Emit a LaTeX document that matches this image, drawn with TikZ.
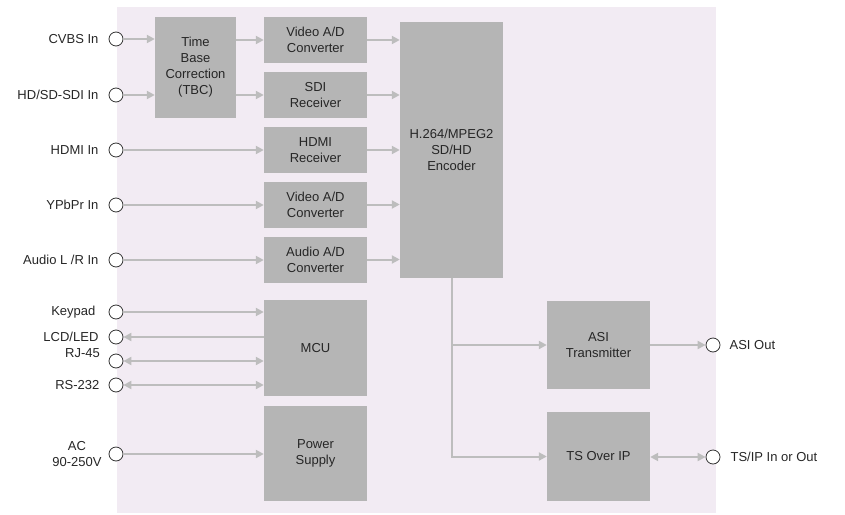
\documentclass[tikz,border=0pt]{standalone}
\usepackage{fontspec}
\setmainfont{Liberation Sans}
\usetikzlibrary{arrows.meta,positioning}
\definecolor{panelbg}{HTML}{F2EBF3}
\definecolor{boxgray}{HTML}{B5B5B5}
\definecolor{wiregray}{HTML}{BDBDBD}
\definecolor{ringgray}{HTML}{333333}

\begin{document}
\begin{tikzpicture}[
  x=1pt, y=-1pt, node distance=10pt, >={Triangle[length=8pt,width=8pt]},
  blk/.style={fill=boxgray, align=center, font=\fontsize{13}{16}\selectfont, text=black!85,
              inner sep=0pt, minimum width=103pt, minimum height=46pt},
  port/.style={circle, draw=ringgray, fill=white, line width=0.8pt, minimum size=14pt, inner sep=0pt},
  lab/.style={font=\fontsize{13}{16}\selectfont, inner sep=0pt, text=black!85},
  arr/.style={->, wiregray, line width=2pt}, biarr/.style={<->, wiregray, line width=2pt}
]
\useasboundingbox (0,0) rectangle (845,514);
\fill[panelbg] (117,7) rectangle (716,513);

\node[blk, minimum width=81pt, minimum height=101pt] (tbc) at (195.5,67.5) {Time\\Base\\Correction\\(TBC)};
\node[blk] (vad1) at (315.5,40) {Video A/D\\Converter};
\node[blk] (sdi) at (315.5,95) {SDI\\Receiver};
\node[blk] (hdmi) at (315.5,150) {HDMI\\Receiver};
\node[blk] (vad2) at (315.5,204.5) {Video A/D\\Converter};
\node[blk] (aad) at (315.5,259.5) {Audio A/D\\Converter};
\node[blk, minimum height=256pt] (enc) at (451.5,150) {H.264/MPEG2\\SD/HD\\Encoder};
\node[blk, minimum height=96pt] (mcu) at (315.5,348) {MCU};
\node[blk, minimum height=95pt] (psu) at (315.5,453.5) {Power\\Supply};
\node[blk, minimum height=88pt] (asi) at (598.5,345) {ASI\\Transmitter};
\node[blk, minimum height=89pt] (tsip) at (598.5,456.5) {TS Over IP};

\node[port] (cvbs) at (116,39) {};
\node[port] (sdiin) at (116,95) {};
\node[port] (hdmiin) at (116,150) {};
\node[port] (ypbpr) at (116,205) {};
\node[port] (audio) at (116,260) {};
\node[port] (keypad) at (116,312) {};
\node[port] (lcd) at (116,337) {};
\node[port] (rj) at (116,361) {};
\node[port] (rs) at (116,385) {};
\node[port] (ac) at (116,454) {};
\node[port] (asiout) at (713,345) {};
\node[port] (tsout) at (713,457) {};

\node[lab, left=10pt of cvbs] {CVBS In};
\node[lab, left=10pt of sdiin] {HD/SD-SDI In};
\node[lab, left=10pt of hdmiin] {HDMI In};
\node[lab, left=10pt of ypbpr] {YPbPr In};
\node[lab, left=10pt of audio] {Audio L /R In};
\node[lab, left=13pt of keypad] {Keypad};
\node[lab, left=10pt of lcd] {LCD/LED};
\node[lab, anchor=east] at (100,353) {RJ-45};
\node[lab, left=9pt of rs] {RS-232};
\node[lab, align=center] at (77,454) {AC\\90-250V};
\node[lab, right=9pt of asiout] {ASI Out};
\node[lab, right=10pt of tsout] {TS/IP In or Out};

\draw[arr] (cvbs.east) -- (cvbs -| tbc.west);
\draw[arr] (sdiin.east) -- (sdiin -| tbc.west);
\draw[arr] (tbc.east |- vad1) -- (vad1.west);
\draw[arr] (tbc.east |- sdi) -- (sdi.west);
\draw[arr] (hdmiin.east) -- (hdmi.west);
\draw[arr] (ypbpr.east) -- (ypbpr -| vad2.west);
\draw[arr] (audio.east) -- (audio -| aad.west);
\draw[arr] (vad1.east) -- (vad1 -| enc.west);
\draw[arr] (sdi.east) -- (sdi -| enc.west);
\draw[arr] (hdmi.east) -- (hdmi -| enc.west);
\draw[arr] (vad2.east) -- (vad2 -| enc.west);
\draw[arr] (aad.east) -- (aad -| enc.west);
\draw[arr] (keypad.east) -- (keypad -| mcu.west);
\draw[arr] (lcd -| mcu.west) -- (lcd.east);
\draw[biarr] (rj.east) -- (rj -| mcu.west);
\draw[biarr] (rs.east) -- (rs -| mcu.west);
\draw[arr] (ac.east) -- (ac -| psu.west);
\draw[arr] (enc.south) |- (asi.west);
\draw[arr] (enc.south) |- (tsip.west);
\draw[arr] (asi.east) -- (asiout.west);
\draw[biarr] (tsip.east |- tsout) -- (tsout.west);
\end{tikzpicture}
\end{document}
